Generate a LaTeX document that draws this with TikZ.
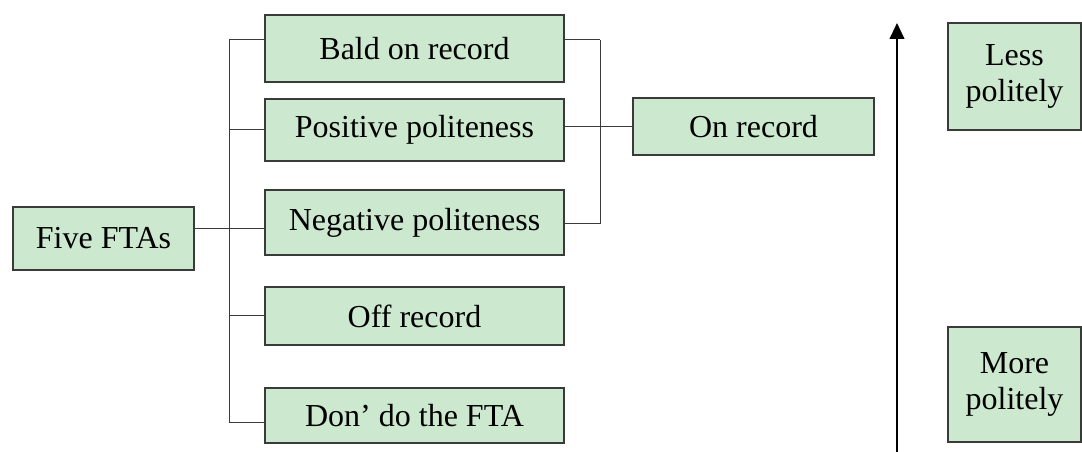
\documentclass[tikz,border=0pt]{standalone}
\usepackage{fontspec}
\setmainfont{Liberation Serif}
\usetikzlibrary{arrows.meta}

\definecolor{boxgreen}{HTML}{CCE8CF}
\definecolor{boxline}{HTML}{3A3A3A}

\tikzset{
  ftabox/.style={draw=boxline, fill=boxgreen, line width=0.8pt, inner sep=0pt,
    align=center, font=\fontsize{24}{27}\selectfont},
  link/.style={draw=boxline, line width=0.75pt}
}

\begin{document}
\begin{tikzpicture}[x=0.75pt, y=-0.75pt]
  \useasboundingbox (0,0) rectangle (1082,452);

  % Root
  \node[ftabox, minimum width=135.75pt, minimum height=47.25pt] (five) at (103.5,238.5) {Five FTAs};

  % Strategies
  \node[ftabox, minimum width=224.25pt, minimum height=50.25pt] (bald) at (414.5,48.5) {Bald on record};
  \node[ftabox, minimum width=224.25pt, minimum height=46.5pt] (pos) at (414.5,130) {Positive politeness};
  \node[ftabox, minimum width=224.25pt, minimum height=48.75pt] (neg) at (414.5,222.5) {Negative politeness};
  \node[ftabox, minimum width=224.25pt, minimum height=43.5pt] (off) at (414.5,316) {Off record};
  \node[ftabox, minimum width=224.25pt, minimum height=41.25pt] (dont) at (414.5,415.5) {Don’ do the FTA};

  % On record
  \node[ftabox, minimum width=180.75pt, minimum height=42.75pt] (onrec) at (753.5,126.5) {On record};

  % Scale
  \node[ftabox, minimum width=99.75pt, minimum height=80.25pt] (less) at (1014.5,76.5) {Less\\politely};
  \node[ftabox, minimum width=99.75pt, minimum height=86.25pt] (more) at (1014.5,384.5) {More\\politely};

  % Left bus
  \coordinate (busT) at (229,40);
  \coordinate (busM) at (229,229);
  \coordinate (busB) at (229,422);
  \draw[link] (busT) -- (busB);
  \draw[link] (five.east |- busM) -- (busM);
  \draw[link] (busT) -- (busT -| bald.west);
  \draw[link] (pos.west -| busT) -- (pos.west);
  \draw[link] (busM) -- (busM -| neg.west);
  \draw[link] (off.west -| busT) -- (off.west);
  \draw[link] (busB) -- (busB -| dont.west);

  % Right bracket
  \coordinate (joinT) at (600,40);
  \coordinate (joinM) at (600,127);
  \coordinate (joinB) at (600,224);
  \draw[link] (joinT) -- (joinB);
  \draw[link] (joinT -| bald.east) -- (joinT);
  \draw[link] (joinM -| pos.east) -- (joinM);
  \draw[link] (joinB -| neg.east) -- (joinB);
  \draw[link] (joinM) -- (joinM -| onrec.west);

  % Arrow
  \coordinate (arrowfoot) at (897,452);
  \coordinate (arrowtip) at (897,23);
  \draw[line width=1.5pt, -{Triangle[length=12pt, width=11pt]}] (arrowfoot) -- (arrowtip);
\end{tikzpicture}
\end{document}
